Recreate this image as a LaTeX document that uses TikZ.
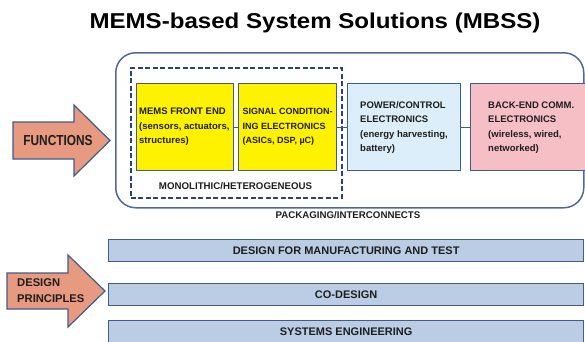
\documentclass[tikz,border=0pt]{standalone}
\usepackage{fontspec}
\usepackage{graphicx}
\setmainfont{Liberation Sans}
\newfontfamily\titlefont{Liberation Sans}[FakeStretch=1.12]
\definecolor{bordc}{RGB}{62,92,140}
\definecolor{outerc}{RGB}{80,105,155}
\definecolor{dashc}{RGB}{40,68,118}
\definecolor{yell}{RGB}{255,242,0}
\definecolor{lblue}{RGB}{219,238,249}
\definecolor{pinkc}{RGB}{246,190,197}
\definecolor{barc}{RGB}{186,205,229}
\definecolor{salmonc}{RGB}{232,154,128}
\definecolor{txt}{RGB}{30,30,30}
\begin{document}
\begin{tikzpicture}[x=1pt,y=-1pt,
  box/.style={draw=bordc, line width=1.3pt, inner sep=0pt, anchor=north west},
  btext/.style={font=\bfseries\fontsize{9.5}{14.5}\selectfont, text=txt, align=left, inner sep=0pt, anchor=west},
  bar/.style={draw=bordc, line width=1.3pt, fill=barc, anchor=north west, minimum width=475pt, minimum height=22pt, inner sep=0pt, font=\bfseries\fontsize{11}{12}\selectfont, text=txt},
  conn/.style={draw=bordc, line width=0.6pt},
  arrowshape/.style={draw=bordc, line width=1.2pt, fill=salmonc, line join=miter},
  lbl/.style={font=\bfseries\fontsize{9.7}{11}\selectfont, text=txt, inner sep=0pt, anchor=base}
]
\useasboundingbox (0,0) rectangle (585,341);

% title
\node[font=\titlefont\bfseries\fontsize{21.5}{24}\selectfont, text=black, inner sep=0pt, anchor=base] (title) at (315,28) {MEMS-based System Solutions (MBSS)};

% outer rounded frame
\node[draw=outerc, line width=1.5pt, rounded corners=20pt, minimum width=468pt, minimum height=155pt, inner sep=0pt, anchor=north west] (outer) at (115,52) {};
% dashed frame
\node[draw=dashc, line width=1.5pt, dash pattern=on 5pt off 2.5pt, minimum width=211pt, minimum height=130pt, inner sep=0pt, anchor=north west] (mono) at (130,67) {};

% boxes
\node[box, fill=yell, minimum width=97pt, minimum height=87pt] (y1) at (136,83) {};
\node[box, fill=yell, minimum width=98pt, minimum height=87pt] (y2) at (238,83) {};
\node[box, fill=lblue, minimum width=113pt, minimum height=87pt] (pw) at (347,83) {};
\node[box, fill=pinkc, minimum width=118pt, minimum height=87pt] (bk) at (470,83) {};

\draw[conn] (y1.east) -- (y2.west);
\draw[conn] (y2.east) -- (pw.west);
\draw[conn] (pw.east) -- (bk.west);

\node[btext] (y1t) at ([xshift=3pt]y1.west) {MEMS FRONT END\\(sensors, actuators,\\structures)};
\node[btext, font=\bfseries\fontsize{9}{14.5}\selectfont] (y2t) at ([xshift=4.5pt]y2.west) {SIGNAL CONDITION-\\ING ELECTRONICS\\(ASICs, DSP, µC)};
\node[btext] (pwt) at ([xshift=13pt,yshift=-0.5pt]pw.west) {POWER/CONTROL\\ELECTRONICS\\(energy harvesting,\\battery)};
\node[btext] (bkt) at ([xshift=18pt,yshift=-0.5pt]bk.west) {BACK-END COMM.\\ELECTRONICS\\(wireless, wired,\\networked)};

\node[lbl] (monot) at (235.5,189) {MONOLITHIC/HETEROGENEOUS};
\node[lbl] (packt) at (348,218) {PACKAGING/INTERCONNECTS};

% functions arrow
\draw[arrowshape] (13,122) -- (74,122) -- (74,105) -- (110,140.5) -- (74,176) -- (74,159) -- (13,159) -- cycle;
\node[font=\bfseries\fontsize{14.5}{14.5}\selectfont, text=txt, inner sep=0pt] (fn) at (58,140.5) {\scalebox{0.82}[1]{FUNCTIONS}};

% design principles arrow
\draw[arrowshape] (7,273) -- (68,273) -- (68,255) -- (105,291) -- (68,327) -- (68,309) -- (7,309) -- cycle;
\node[font=\bfseries\fontsize{11.2}{16}\selectfont, text=txt, align=left, inner sep=0pt, anchor=west] (dp) at (17,291) {DESIGN\\PRINCIPLES};

% bars
\node[bar] (b1) at (108,239) {DESIGN FOR MANUFACTURING AND TEST};
\node[bar] (b2) at (108,283) {CO-DESIGN};
\node[bar] (b3) at (108,320) {SYSTEMS ENGINEERING};
\end{tikzpicture}
\end{document}
